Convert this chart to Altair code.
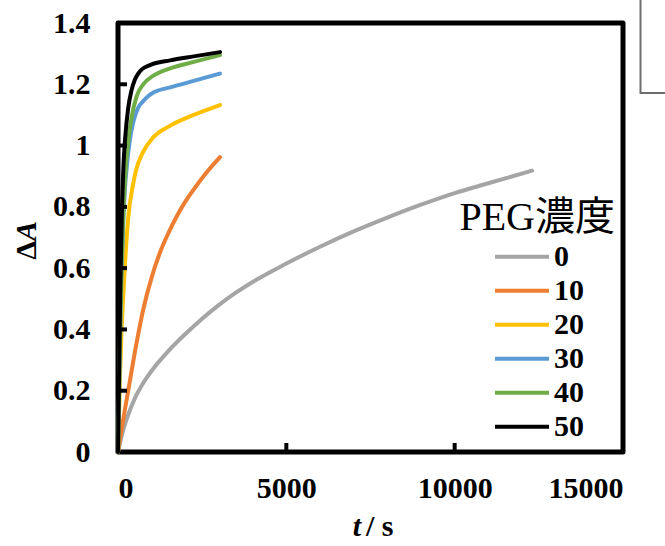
import altair as alt
import pandas as pd

# ---- data ----
series = ["0", "10", "20", "30", "40", "50"]
colors = ["#A5A5A5", "#ED7D31", "#FFC000", "#5B9BD5", "#70AD47", "#000000"]

t0 = [0, 100, 250, 500, 750, 1000, 1500, 2000, 2500, 3000, 3500, 4000, 5000, 6000, 7000, 8000, 9000, 10000, 11000, 12300]
y0 = [0, 0.05, 0.105, 0.175, 0.225, 0.265, 0.33, 0.385, 0.435, 0.48, 0.52, 0.555, 0.615, 0.67, 0.72, 0.765, 0.807, 0.845, 0.877, 0.918]

t10 = [0, 100, 200, 350, 550, 750, 1000, 1250, 1500, 1750, 2000, 2250, 2600, 3030]
y10 = [0, 0.07, 0.135, 0.23, 0.355, 0.465, 0.57, 0.652, 0.715, 0.77, 0.817, 0.857, 0.908, 0.962]

t20 = [0, 30, 60, 100, 150, 200, 300, 450, 550, 750, 1050, 1550, 2250, 3030]
y20 = [0, 0.12, 0.25, 0.38, 0.50, 0.60, 0.76, 0.875, 0.925, 0.98, 1.027, 1.065, 1.10, 1.132]

t30 = [0, 20, 50, 100, 150, 200, 260, 350, 450, 600, 750, 900, 1050, 1550, 2250, 3030]
y30 = [0, 0.10, 0.30, 0.56, 0.73, 0.85, 0.93, 1.016, 1.075, 1.124, 1.145, 1.162, 1.173, 1.19, 1.211, 1.235]

t40 = [0, 20, 50, 90, 140, 190, 240, 300, 400, 550, 750, 1050, 1550, 2250, 3030]
y40 = [0, 0.12, 0.33, 0.55, 0.73, 0.85, 0.94, 1.01, 1.09, 1.16, 1.20, 1.228, 1.252, 1.273, 1.295]

t50 = [0, 20, 50, 80, 120, 160, 210, 300, 400, 500, 600, 700, 850, 1000, 1550, 2250, 3030]
y50 = [0, 0.16, 0.40, 0.60, 0.80, 0.93, 1.02, 1.12, 1.18, 1.215, 1.235, 1.248, 1.258, 1.265, 1.278, 1.291, 1.305]

x_ticks = [0, 5000, 10000, 15000]
y_ticks = [0, 0.2, 0.4, 0.6, 0.8, 1.0, 1.2, 1.4]
x_inner_ticks = [5000, 10000]
y_inner_ticks = [0.2, 0.4, 0.6, 0.8, 1.0, 1.2]

legend_title = "PEG濃度"

# ---- build tables ----
rows = []
for name, ts, ys in zip(series, [t0, t10, t20, t30, t40, t50], [y0, y10, y20, y30, y40, y50]):
    for i, (t, y) in enumerate(zip(ts, ys)):
        rows.append({"PEG": name, "t": t, "dA": y, "i": i})
df = pd.DataFrame(rows)

W, H = 505, 429
FONT = "Liberation Serif, Noto Sans CJK JP"
FS = 30

xs = alt.Scale(domain=[0, 15000], nice=False, zero=False)
ys_ = alt.Scale(domain=[0, 1.4], nice=False)

lines = alt.Chart(df).mark_line(strokeWidth=4, interpolate="monotone", strokeCap="round").encode(
    x=alt.X("t:Q", scale=xs,
            axis=alt.Axis(values=x_ticks, format="d", title=None, ticks=False, domain=False, grid=False,
                          labelFont=FONT, labelFontSize=FS, labelFontWeight="bold", labelColor="black",
                          labelPadding=21)),
    y=alt.Y("dA:Q", scale=ys_,
            axis=alt.Axis(values=y_ticks, format="~g", title=None, ticks=False, domain=False, grid=False,
                          labelFont=FONT, labelFontSize=FS, labelFontWeight="bold", labelColor="black",
                          labelPadding=28)),
    color=alt.Color("PEG:N", scale=alt.Scale(domain=series, range=colors),
                    legend=alt.Legend(title=None, orient="none", legendX=375, legendY=217,
                                      symbolType="stroke", symbolSize=2916, symbolStrokeWidth=4,
                                      clipHeight=33.4, rowPadding=0, padding=0, labelOffset=3,
                                      labelFont=FONT, labelFontSize=FS, labelFontWeight="bold",
                                      labelColor="black", labelBaseline="middle")),
    order="i:Q",
)

xt = alt.Chart(pd.DataFrame({"v": x_inner_ticks})).mark_rule(color="black", strokeWidth=4).encode(
    x=alt.X("v:Q", scale=xs), y=alt.value(H), y2=alt.value(H - 9)
)
yt = alt.Chart(pd.DataFrame({"v": y_inner_ticks})).mark_rule(color="black", strokeWidth=4).encode(
    y=alt.Y("v:Q", scale=ys_), x=alt.value(0), x2=alt.value(9)
)

one = pd.DataFrame({"a": [0]})
def txt(s, x, y, align, italic=False, bold=True, size=FS, angle=0, baseline="alphabetic"):
    kw = dict(text=s, font=FONT, fontSize=size, align=align, baseline=baseline, color="black")
    if bold:
        kw["fontWeight"] = "bold"
    if italic:
        kw["fontStyle"] = "italic"
    if angle:
        kw["angle"] = angle
    return alt.Chart(one).mark_text(**kw).encode(x=alt.value(x), y=alt.value(y))

titles = [
    txt("t", 243, 513, "right", italic=True),
    txt("/\u00a0s", 248, 513, "left"),
    txt("Δ", -82, 218, "right", angle=270),
    txt("A", -82, 218, "left", italic=True, angle=270),
    txt(legend_title, 497, 207, "right", bold=False, size=40),
]

box = alt.Chart(one).mark_rect(fill=None, stroke="#6E6E6E", strokeWidth=2).encode(
    x=alt.value(522.5), x2=alt.value(580), y=alt.value(-40), y2=alt.value(70)
)

chart = alt.layer(lines, xt, yt, box, *titles).properties(
    width=W, height=H,
    autosize=alt.AutoSizeParams(type="none"),
    padding={"left": 118, "top": 23, "right": 42, "bottom": 94},
).configure_view(stroke="black", strokeWidth=5, strokeJoin="round")

chart.save("out.html", embed_options={"renderer": "svg", "actions": False})
